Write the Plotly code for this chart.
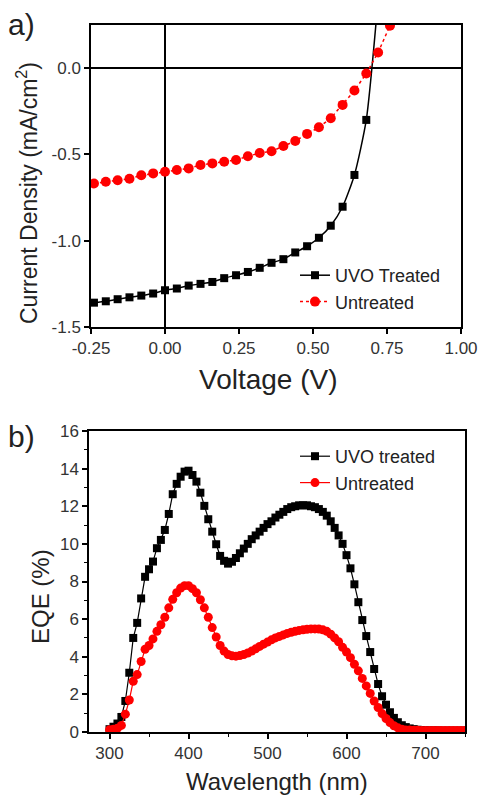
import plotly.graph_objects as go

# ---------------- Panel a) J-V data ----------------
voltage = [-0.24, -0.20, -0.16, -0.12, -0.08, -0.04, 0.00, 0.04, 0.08, 0.12, 0.16, 0.20,
           0.24, 0.28, 0.32, 0.36, 0.40, 0.44, 0.48, 0.52, 0.56, 0.60, 0.64, 0.68, 0.72]
j_uvo = [-1.359, -1.351, -1.339, -1.328, -1.318, -1.306, -1.287, -1.277, -1.260, -1.250,
         -1.239, -1.217, -1.200, -1.181, -1.157, -1.128, -1.107, -1.068, -1.032, -0.983,
         -0.913, -0.803, -0.619, -0.300, 0.40]
voltage_un = [-0.24, -0.20, -0.16, -0.12, -0.08, -0.04, 0.00, 0.04, 0.08, 0.12, 0.16, 0.20,
              0.24, 0.28, 0.32, 0.36, 0.40, 0.44, 0.48, 0.52, 0.56, 0.60, 0.64, 0.68, 0.72, 0.76, 0.80]
j_untreated = [-0.668, -0.658, -0.650, -0.641, -0.621, -0.610, -0.600, -0.590, -0.581, -0.561,
               -0.552, -0.542, -0.532, -0.511, -0.492, -0.482, -0.451, -0.422, -0.381, -0.343,
               -0.290, -0.213, -0.130, -0.031, 0.091, 0.246, 0.42]

xticks_a = [-0.25, 0.0, 0.25, 0.5, 0.75, 1.0]
xticklabels_a = ["-0.25", "0.00", "0.25", "0.50", "0.75", "1.00"]
yticks_a = [-1.5, -1.0, -0.5, 0.0]
yticklabels_a = ["-1.5", "-1.0", "-0.5", "0.0"]

# ---------------- Panel b) EQE data ----------------
wavelength = list(range(300, 755, 5))
eqe_uvo = [0.15, 0.28, 0.45, 0.80, 1.65, 3.15, 5.00, 5.80, 7.10, 8.25,
           8.65, 9.06, 9.77, 10.21, 10.74, 11.59, 12.64, 13.19, 13.57, 13.84,
           13.89, 13.66, 13.31, 12.72, 12.02, 11.31, 10.65, 9.98, 9.36, 9.10,
           8.95, 9.05, 9.25, 9.50, 9.75, 10.00, 10.25, 10.45, 10.65, 10.85,
           11.05, 11.20, 11.40, 11.55, 11.70, 11.85, 11.95, 12.00, 12.05, 12.05,
           12.05, 12.00, 11.95, 11.85, 11.70, 11.50, 11.20, 10.85, 10.45, 10.00,
           9.40, 8.70, 7.85, 6.90, 5.95, 5.10, 4.25, 3.35, 2.55, 1.90,
           1.45, 1.05, 0.75, 0.52, 0.36, 0.26, 0.19, 0.15, 0.12, 0.10,
           0.09, 0.08, 0.08, 0.08, 0.07, 0.07, 0.07, 0.07, 0.07, 0.07, 0.07]
eqe_untreated = [0.12, 0.15, 0.20, 0.35, 0.95, 1.70, 2.70, 3.05, 3.75, 4.40,
                 4.60, 4.95, 5.35, 5.70, 6.10, 6.60, 7.05, 7.40, 7.65, 7.78,
                 7.78, 7.62, 7.40, 7.03, 6.60, 6.10, 5.55, 5.05, 4.60, 4.30,
                 4.12, 4.05, 4.03, 4.06, 4.12, 4.20, 4.30, 4.42, 4.55, 4.67,
                 4.78, 4.90, 5.00, 5.08, 5.16, 5.24, 5.30, 5.35, 5.40, 5.43,
                 5.46, 5.48, 5.48, 5.47, 5.43, 5.35, 5.20, 5.00, 4.80, 4.50,
                 4.25, 3.95, 3.60, 3.25, 2.85, 2.45, 2.05, 1.65, 1.30, 0.98,
                 0.72, 0.50, 0.33, 0.22, 0.15, 0.11, 0.10, 0.09, 0.09, 0.08,
                 0.08, 0.08, 0.08, 0.08, 0.08, 0.08, 0.08, 0.08, 0.08, 0.08, 0.08]

xticks_b = [300, 400, 500, 600, 700]
yticks_b = [0, 2, 4, 6, 8, 10, 12, 14, 16]

W, H = 479, 796
FONT = "Liberation Sans, Arial, sans-serif"
TICKC = "#333333"


def px_x(p):
    return p / W


def px_y(p):
    return 1 - p / H


fig = go.Figure()

# top panel traces
fig.add_trace(go.Scatter(
    x=voltage, y=j_uvo, mode="lines+markers", name="UVO Treated",
    line=dict(color="black", width=1.5, shape="spline", smoothing=0.6),
    marker=dict(symbol="square", size=8, color="black"),
    xaxis="x", yaxis="y", legend="legend"))
fig.add_trace(go.Scatter(
    x=voltage_un, y=j_untreated, mode="lines+markers", name="Untreated",
    line=dict(color="red", width=1.5, dash="dot"),
    marker=dict(symbol="circle", size=10, color="red"),
    xaxis="x", yaxis="y", legend="legend"))

# bottom panel traces
fig.add_trace(go.Scatter(
    x=wavelength, y=eqe_uvo, mode="lines+markers", name="UVO treated",
    line=dict(color="black", width=1.2),
    marker=dict(symbol="square", size=8, color="black"),
    xaxis="x2", yaxis="y2", legend="legend2"))
fig.add_trace(go.Scatter(
    x=wavelength, y=eqe_untreated, mode="lines+markers", name="Untreated",
    line=dict(color="red", width=1.2),
    marker=dict(symbol="circle", size=9, color="red"),
    xaxis="x2", yaxis="y2", legend="legend2"))

axis_common = dict(showline=True, linecolor="black", linewidth=1.5, mirror=True,
                   ticks="outside", tickcolor="black", tickwidth=1.5, automargin=False,
                   showgrid=False, tickfont=dict(family=FONT, size=17, color=TICKC))

legend_common = dict(xanchor="left", yanchor="top", bgcolor="rgba(0,0,0,0)",
                     font=dict(family=FONT, size=18, color="#222222"),
                     itemwidth=30, tracegroupgap=0)

fig.update_layout(
    template="none",
    width=W, height=H,
    margin=dict(l=0, r=0, t=0, b=0, pad=0),
    paper_bgcolor="white", plot_bgcolor="white",
    showlegend=True,
    font=dict(family=FONT, color="#222222"),
    xaxis=dict(domain=[px_x(91), px_x(461)], range=[-0.25, 1.0], anchor="y",
               tickmode="array", tickvals=xticks_a, ticktext=xticklabels_a, ticklen=5,
               zeroline=True, zerolinecolor="black", zerolinewidth=1.5, **axis_common),
    yaxis=dict(domain=[px_y(327), px_y(25)], range=[-1.5, 0.25], anchor="x",
               tickmode="array", tickvals=yticks_a, ticktext=yticklabels_a, ticklen=5,
               zeroline=True, zerolinecolor="black", zerolinewidth=1.5, **axis_common),
    xaxis2=dict(domain=[px_x(89), px_x(465)], range=[274, 750], anchor="y2",
                tickmode="array", tickvals=xticks_b, ticklen=5, zeroline=False,
                minor=dict(dtick=50, tick0=0, ticklen=3, tickcolor="black", ticks="outside", tickwidth=1.2),
                **axis_common),
    yaxis2=dict(domain=[px_y(732), px_y(431)], range=[0, 16], anchor="x2",
                tickmode="array", tickvals=yticks_b, ticklen=5, zeroline=False,
                minor=dict(dtick=1, tick0=0, ticklen=3, tickcolor="black", ticks="outside", tickwidth=1.2),
                **axis_common),
    legend=dict(x=px_x(295), y=px_y(257), **legend_common),
    legend2=dict(x=px_x(295), y=px_y(438), **legend_common),
)

annotations = [
    dict(text="a)", x=px_x(21), y=px_y(25), font=dict(size=30)),
    dict(text="b)", x=px_x(21), y=px_y(436), font=dict(size=30)),
    dict(text="Voltage (V)", x=px_x(268), y=px_y(379), font=dict(size=28)),
    dict(text="Current Density (mA/cm<sup>2</sup>)", x=px_x(27), y=px_y(193),
         font=dict(size=23), textangle=-90),
    dict(text="Wavelength (nm)", x=px_x(277), y=px_y(781), font=dict(size=24)),
    dict(text="EQE (%)", x=px_x(40), y=px_y(597), font=dict(size=24), textangle=-90),
]
for a in annotations:
    a.update(xref="paper", yref="paper", showarrow=False, xanchor="center", yanchor="middle")
    a["font"].update(family=FONT, color="#222222")
fig.update_layout(annotations=annotations)

fig.write_html("out.html")
